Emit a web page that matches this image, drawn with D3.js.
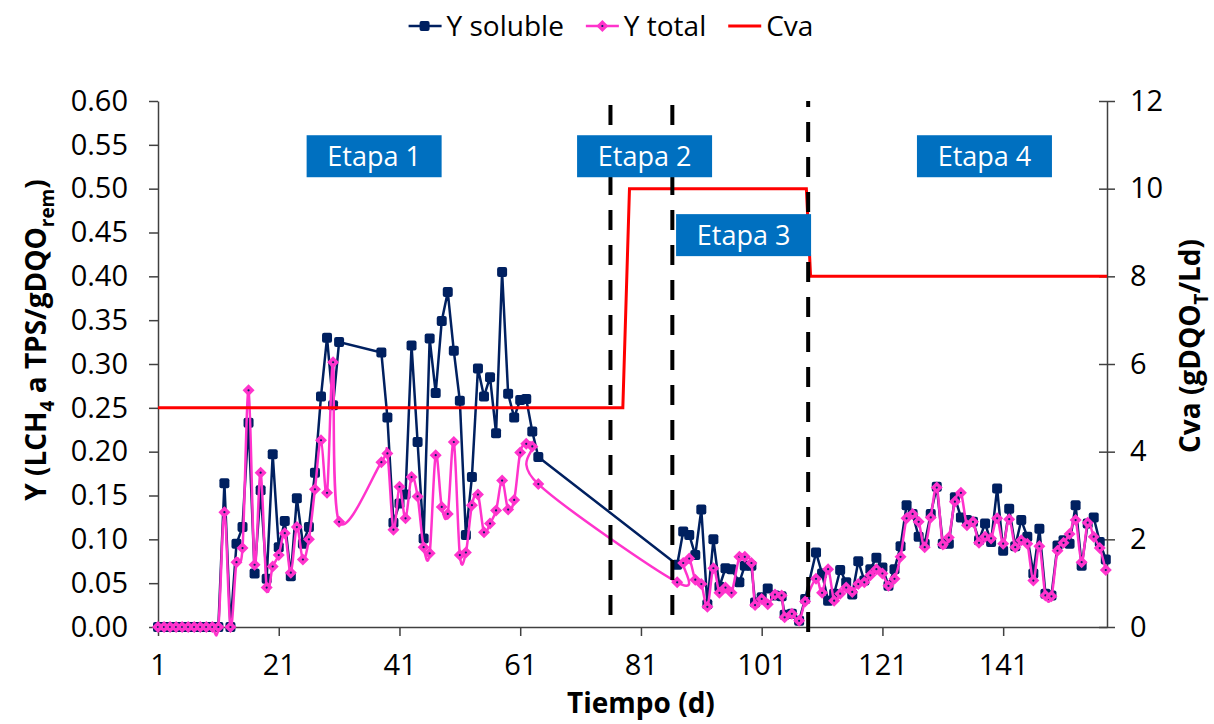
<!DOCTYPE html>
<html>
<head>
<meta charset="utf-8">
<script src="https://cdn.jsdelivr.net/npm/d3@7/dist/d3.min.js"></script>
<style>
    body { margin: 0; background: #fff; }
    text { font-family: "Open Sans", sans-serif; }
</style>
</head>
<body>
<svg id="chart" width="1214" height="724"></svg>
<script>
// 数据：时间 (d)
let days = [1, 2, 3, 4, 5, 6, 7, 8, 9, 10, 11, 12, 13, 14, 15, 16, 17, 18, 19, 20,
    21, 22, 23, 24, 25, 26, 27, 28, 29, 30, 31,
    38, 39, 40, 41, 42, 43, 44, 45, 46, 47, 48, 49, 50, 51, 52, 53, 54, 55, 56, 57,
    58, 59, 60, 61, 62, 63, 64,
    87, 88, 89, 90, 91, 92, 93, 94, 95, 96, 97.3, 98.2, 99.3, 99.9, 101, 102, 103.2,
    104.3, 104.8, 106, 107.2, 108.2, 110, 111, 112,
    113, 114, 115, 116, 117, 118, 119, 120, 121, 122, 123, 124, 125, 126, 127, 128,
    129, 130, 131, 132, 133, 134, 135, 136, 137, 138, 139, 140, 141, 142, 143, 144,
    145, 146, 147, 148, 149, 150, 151, 152, 153, 154, 155, 156, 157, 158]

let ySoluble = [0, 0, 0, 0, 0, 0, 0, 0, 0, 0, 0, 0.164, 0, 0.095, 0.114, 0.233, 0.061, 0.156, 0.055, 0.197,
    0.091, 0.121, 0.058, 0.147, 0.095, 0.114, 0.176, 0.263, 0.330, 0.253, 0.325,
    0.313, 0.239, 0.119, 0.141, 0.151, 0.321, 0.211, 0.101, 0.329, 0.267, 0.349, 0.382, 0.315, 0.258, 0.105, 0.171, 0.295, 0.263, 0.285, 0.221,
    0.405, 0.266, 0.239, 0.259, 0.260, 0.223, 0.194,
    0.071, 0.109, 0.105, 0.082, 0.134, 0.026, 0.100, 0.046, 0.067, 0.066, 0.051, 0.070, 0.070, 0.028, 0.034, 0.044, 0.036,
    0.035, 0.014, 0.015, 0.007, 0.032, 0.085, 0.061, 0.030,
    0.038, 0.065, 0.051, 0.037, 0.075, 0.053, 0.066, 0.079, 0.068, 0.047, 0.066, 0.092, 0.139, 0.129, 0.103, 0.095,
    0.129, 0.160, 0.095, 0.095, 0.148, 0.125, 0.122, 0.120, 0.099, 0.118, 0.097, 0.158, 0.087, 0.135, 0.092, 0.122,
    0.103, 0.061, 0.112, 0.038, 0.036, 0.093, 0.099, 0.095, 0.139, 0.070, 0.118, 0.125, 0.097, 0.077]

let yTotal = [0, 0, 0, 0, 0, 0, 0, 0, 0, 0, 0, 0.131, 0, 0.074, 0.090, 0.270, 0.071, 0.176, 0.045, 0.069,
    0.082, 0.107, 0.062, 0.114, 0.077, 0.100, 0.157, 0.213, 0.153, 0.302, 0.120,
    0.188, 0.198, 0.111, 0.160, 0.124, 0.171, 0.149, 0.091, 0.084, 0.196, 0.137, 0.129, 0.211, 0.082, 0.085, 0.139, 0.151, 0.108, 0.118, 0.133,
    0.167, 0.134, 0.145, 0.199, 0.209, 0.206, 0.163,
    0.051, 0.073, 0.078, 0.054, 0.049, 0.023, 0.067, 0.039, 0.045, 0.039, 0.080, 0.080, 0.073, 0.025, 0.032, 0.026, 0.037,
    0.036, 0.011, 0.015, 0.007, 0.029, 0.055, 0.039, 0.066,
    0.030, 0.038, 0.045, 0.040, 0.049, 0.051, 0.059, 0.066, 0.061, 0.047, 0.055, 0.080, 0.124, 0.129, 0.120, 0.091,
    0.125, 0.159, 0.094, 0.102, 0.143, 0.153, 0.116, 0.120, 0.096, 0.103, 0.101, 0.124, 0.095, 0.123, 0.091, 0.099,
    0.095, 0.053, 0.092, 0.036, 0.035, 0.087, 0.096, 0.106, 0.122, 0.074, 0.119, 0.103, 0.090, 0.065]

// 右轴：Cva
let cvaDays = [1, 78, 79.1, 108.4, 109.1, 158.2]
let cvaValues = [5, 5, 10, 10, 8, 8]

// 阶段
let stageLimits = [75.95, 86.2, 108.7]
let stageNames = ["Etapa 1", "Etapa 2", "Etapa 3", "Etapa 4"]
let stageDay = [36.8, 81.6, 98, 137.9]
let stageY = [0.537, 0.537, 0.447, 0.537]

let xTicks = [1, 21, 41, 61, 81, 101, 121, 141]
let yTicks = [0, 0.05, 0.10, 0.15, 0.20, 0.25, 0.30, 0.35, 0.40, 0.45, 0.50, 0.55, 0.60]
let y2Ticks = [0, 2, 4, 6, 8, 10, 12]

let margin = { top: 101, right: 107, bottom: 97, left: 158 },
    width = 1214 - margin.left - margin.right,
    height = 724 - margin.top - margin.bottom

let navy = "#002060", pink = "#ff33cc", red = "#ff0000", boxBlue = "#0070c0", axisColor = "#404040"

let svg = d3.select("#chart")
let g = svg.append("g")
    .attr("transform", "translate(" + margin.left + "," + margin.top + ")")

let x = d3.scaleLinear().domain([1, 158.2]).range([0, width])
let y = d3.scaleLinear().domain([0, 0.6]).range([height, 0])
let y2 = d3.scaleLinear().domain([0, 12]).range([height, 0])

let solData = days.map(function (d, i) { return [d, ySoluble[i]] })
let totData = days.map(function (d, i) { return [d, yTotal[i]] })
let cvaData = cvaDays.map(function (d, i) { return [d, cvaValues[i]] })

// 坐标轴
let xAxis = g.append("g")
    .attr("transform", "translate(0," + height + ")")
    .call(d3.axisBottom(x).tickValues(xTicks).tickSize(9).tickSizeOuter(0).tickPadding(18))
let yAxis = g.append("g")
    .call(d3.axisLeft(y).tickValues(yTicks).tickFormat(d3.format(".2f")).tickSize(9).tickSizeOuter(0).tickPadding(21))
let y2Axis = g.append("g")
    .attr("transform", "translate(" + width + ",0)")
    .call(d3.axisRight(y2).tickValues(y2Ticks).tickSize(8).tickSizeOuter(0).tickPadding(15))
y2Axis.selectAll(".tick line").attr("x1", -8)

g.selectAll(".domain, .tick line").attr("stroke", axisColor).attr("stroke-width", 1.5)
g.selectAll(".tick text").attr("font-size", 29).attr("fill", "#000")
    .style("font-family", "'Open Sans', sans-serif")

// Y soluble
g.append("path")
    .datum(solData)
    .attr("fill", "none")
    .attr("stroke", navy)
    .attr("stroke-width", 2.5)
    .attr("d", d3.line().x(function (d) { return x(d[0]) }).y(function (d) { return y(d[1]) }))

g.selectAll(".solMark")
    .data(solData)
    .enter()
    .append("rect")
    .attr("class", "solMark")
    .attr("x", function (d) { return x(d[0]) - 5 })
    .attr("y", function (d) { return y(d[1]) - 5 })
    .attr("width", 10)
    .attr("height", 10)
    .attr("rx", 2)
    .attr("fill", navy)

// Y total (suavizada)
g.append("path")
    .datum(totData)
    .attr("fill", "none")
    .attr("stroke", pink)
    .attr("stroke-width", 2.5)
    .attr("d", d3.line().curve(d3.curveCardinal)
        .x(function (d) { return x(d[0]) }).y(function (d) { return y(d[1]) }))

let totMarks = g.selectAll(".totMark")
    .data(totData)
    .enter()
    .append("g")
    .attr("class", "totMark")
    .attr("transform", function (d) { return "translate(" + x(d[0]) + "," + y(d[1]) + ")" })
totMarks.append("path")
    .attr("d", "M0,-6L6,0L0,6L-6,0Z")
    .attr("fill", pink)
totMarks.append("circle")
    .attr("r", 1.1)
    .attr("fill", navy)

// Cva
g.append("path")
    .datum(cvaData)
    .attr("fill", "none")
    .attr("stroke", red)
    .attr("stroke-width", 3)
    .attr("d", d3.line().x(function (d) { return x(d[0]) }).y(function (d) { return y2(d[1]) }))

// líneas de etapa
g.selectAll(".stageLine")
    .data(stageLimits)
    .enter()
    .append("line")
    .attr("class", "stageLine")
    .attr("x1", function (d) { return x(d) })
    .attr("x2", function (d) { return x(d) })
    .attr("y1", function (d, i) { return i < 2 ? 4 : height + 5 })
    .attr("y2", function (d, i) { return i < 2 ? height : 0 })
    .attr("stroke", "#000")
    .attr("stroke-width", 4)
    .attr("stroke-dasharray", "20,15")

// etiquetas de etapa
let boxW = 135, boxH = 42
let stages = g.selectAll(".stage")
    .data(stageNames)
    .enter()
    .append("g")
    .attr("class", "stage")
    .attr("transform", function (d, i) { return "translate(" + x(stageDay[i]) + "," + y(stageY[i]) + ")" })
stages.append("rect")
    .attr("x", -boxW / 2)
    .attr("y", -boxH / 2)
    .attr("width", boxW)
    .attr("height", boxH)
    .attr("fill", boxBlue)
stages.append("text")
    .attr("text-anchor", "middle")
    .attr("dy", "0.36em")
    .attr("font-size", 27)
    .attr("fill", "#fff")
    .text(function (d) { return d })

// títulos de ejes
svg.append("text")
    .attr("x", margin.left + x(81))
    .attr("y", 713)
    .attr("text-anchor", "middle")
    .attr("font-size", 28)
    .attr("font-weight", "bold")
    .text("Tiempo (d)")

let yTitle = svg.append("text")
    .attr("transform", "translate(46,340) rotate(-90)")
    .attr("text-anchor", "middle")
    .attr("font-size", 28)
    .attr("font-weight", "bold")
yTitle.append("tspan").text("Y (LCH")
yTitle.append("tspan").attr("dy", 8).attr("font-size", 19).text("4")
yTitle.append("tspan").attr("dy", -8).text(" a TPS/gDQO")
yTitle.append("tspan").attr("dy", 8).attr("font-size", 19).text("rem")
yTitle.append("tspan").attr("dy", -8).text(")")

let y2Title = svg.append("text")
    .attr("transform", "translate(1200,346) rotate(-90)")
    .attr("text-anchor", "middle")
    .attr("font-size", 28)
    .attr("font-weight", "bold")
y2Title.append("tspan").text("Cva (gDQO")
y2Title.append("tspan").attr("dy", 8).attr("font-size", 19).text("T")
y2Title.append("tspan").attr("dy", -8).text("/Ld)")

// leyenda
let legendNames = ["Y soluble", "Y total", "Cva"]
let legend = svg.append("g")
let lx = 0
legendNames.forEach(function (name, i) {
    let item = legend.append("g").attr("transform", "translate(" + lx + ",0)")
    let col = [navy, pink, red][i]
    item.append("line")
        .attr("x1", 0).attr("x2", 33).attr("y1", 0).attr("y2", 0)
        .attr("stroke", col).attr("stroke-width", i == 2 ? 3 : 2.5)
    if (i == 0) {
        item.append("rect").attr("x", 11).attr("y", -5).attr("width", 10).attr("height", 10).attr("rx", 2).attr("fill", navy)
    } else if (i == 1) {
        item.append("path").attr("d", "M16.5,-6L22.5,0L16.5,6L10.5,0Z").attr("fill", pink)
        item.append("circle").attr("cx", 16.5).attr("r", 1.1).attr("fill", navy)
    }
    let t = item.append("text")
        .attr("x", 38)
        .attr("dy", "0.35em")
        .attr("font-size", 28)
        .text(name)
    lx += 38 + t.node().getComputedTextLength() + 22
})
let legendW = lx - 22
legend.attr("transform", "translate(" + (611 - legendW / 2) + ",26)")
</script>
</body>
</html>
